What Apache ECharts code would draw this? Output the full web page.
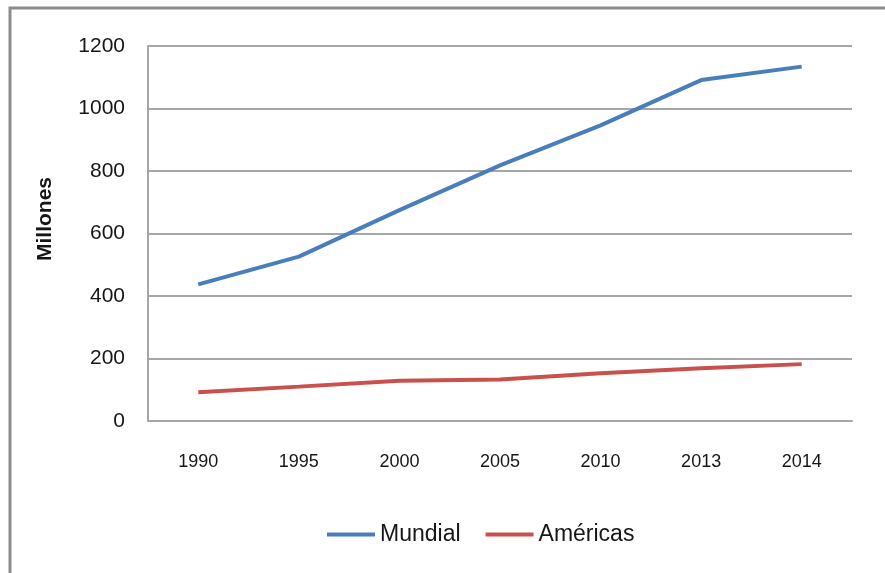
<!DOCTYPE html>
<html>
<head>
<meta charset="utf-8">
<script src="https://cdn.jsdelivr.net/npm/echarts@6/dist/echarts.min.js"></script>
<style>
html,body{margin:0;padding:0;background:#fff;}
#chart{width:885px;height:573px;}
</style>
</head>
<body>
<div id="chart"></div>
<script>
const years = ['1990', '1995', '2000', '2005', '2010', '2013', '2014'];
const mundial = [437, 526, 675, 818, 946, 1091, 1134];
const americas = [92, 110, 129, 133, 153, 169, 182];
const yTicks = { min: 0, max: 1200, interval: 200 };
const seriesNames = ['Mundial', 'Américas'];
const yName = 'Millones';

const font = '"Liberation Sans", Arial, sans-serif';
const txt = '#161616';
const chart = echarts.init(document.getElementById('chart'), null, { renderer: 'canvas' });
chart.setOption({
  backgroundColor: '#ffffff',
  animation: false,
  graphic: [{
    type: 'rect', silent: true,
    shape: { x: 10, y: 8, width: 1000, height: 1000 },
    style: { fill: 'none', stroke: '#8c8c8c', lineWidth: 3 }
  }, {
    type: 'text', silent: true,
    x: 45, y: 219, rotation: Math.PI / 2,
    style: { text: yName, fontFamily: font, fontSize: 21, fontWeight: 'bold', fill: txt,
             align: 'center', verticalAlign: 'middle' }
  }],
  grid: { left: 148, right: 33, top: 46, bottom: 152, containLabel: false },
  legend: {
    data: seriesNames,
    left: 322, top: 518,
    icon: 'rect', itemWidth: 48, itemHeight: 4, itemGap: 25,
    textStyle: { fontFamily: font, fontSize: 23, color: txt }
  },
  xAxis: {
    type: 'category', data: years, boundaryGap: true,
    axisLine: { show: true, lineStyle: { color: '#a6a6a6', width: 2 } },
    axisTick: { show: false },
    axisLabel: { fontFamily: font, fontSize: 18, color: txt, margin: 32 }
  },
  yAxis: {
    type: 'value', min: yTicks.min, max: yTicks.max, interval: yTicks.interval,
    axisLine: { show: true, lineStyle: { color: '#a6a6a6', width: 2 } },
    axisTick: { show: false },
    splitLine: { show: true, lineStyle: { color: '#a6a6a6', width: 2 } },
    axisLabel: { fontFamily: font, fontSize: 21, color: txt, margin: 23,
                 formatter: function (v) { return String(v); } }
  },
  series: [
    { name: seriesNames[0], type: 'line', data: mundial, showSymbol: false, symbol: 'none',
      itemStyle: { color: '#4A7EBB' }, lineStyle: { color: '#4A7EBB', width: 4 } },
    { name: seriesNames[1], type: 'line', data: americas, showSymbol: false, symbol: 'none',
      itemStyle: { color: '#C9504D' }, lineStyle: { color: '#C9504D', width: 4 } }
  ]
});
</script>
</body>
</html>
